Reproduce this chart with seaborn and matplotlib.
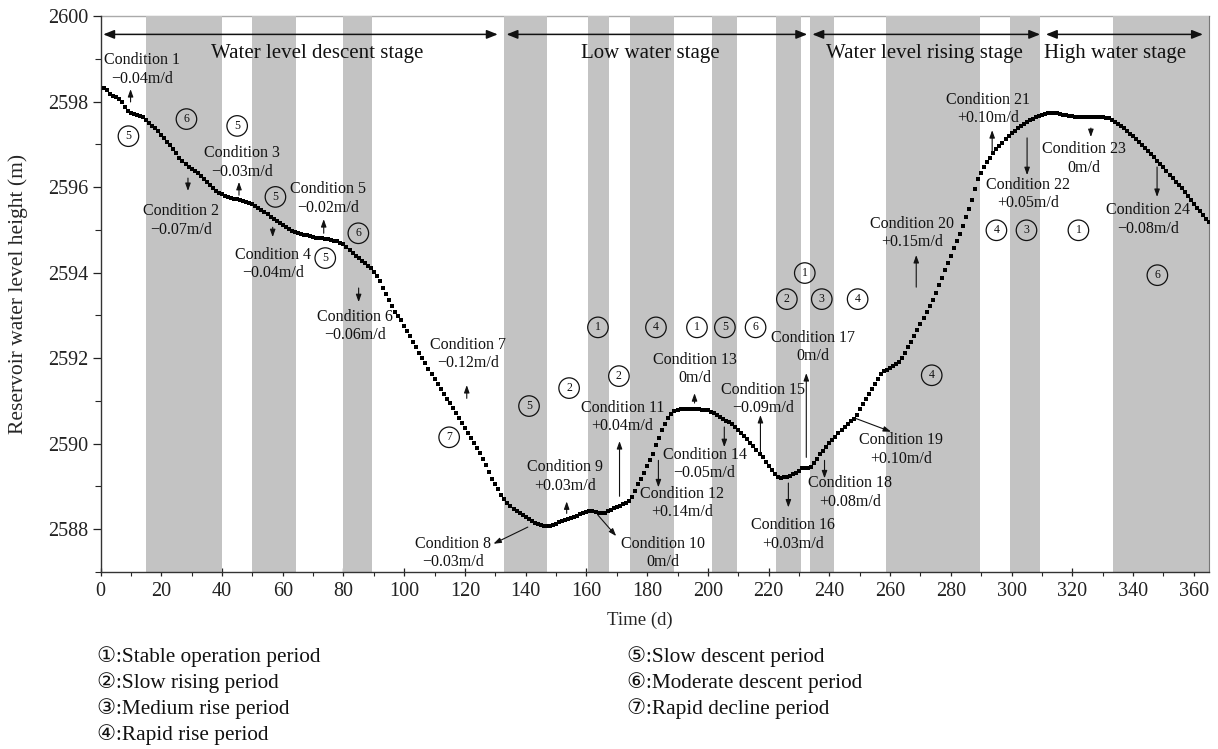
import matplotlib
matplotlib.use("Agg")
import matplotlib.pyplot as plt
import numpy as np
import pandas as pd
import seaborn as sns

# Daily reservoir water level (m), split by operating stage
descent_level = [  # days 1-133
    2598.32, 2598.26, 2598.18, 2598.12, 2598.10, 2598.07, 2598.00, 2597.88, 2597.77, 2597.73,
    2597.71, 2597.68, 2597.66, 2597.63, 2597.57, 2597.50, 2597.43, 2597.37, 2597.30, 2597.22,
    2597.14, 2597.06, 2596.98, 2596.89, 2596.79, 2596.67, 2596.60, 2596.54, 2596.48, 2596.43,
    2596.38, 2596.33, 2596.27, 2596.20, 2596.12, 2596.04, 2595.97, 2595.91, 2595.87, 2595.83,
    2595.80, 2595.77, 2595.75, 2595.73, 2595.71, 2595.69, 2595.67, 2595.65, 2595.63, 2595.60,
    2595.56, 2595.51, 2595.46, 2595.41, 2595.36, 2595.31, 2595.26, 2595.21, 2595.16, 2595.12,
    2595.07, 2595.02, 2594.98, 2594.95, 2594.93, 2594.91, 2594.89, 2594.87, 2594.85, 2594.83,
    2594.82, 2594.81, 2594.80, 2594.79, 2594.78, 2594.77, 2594.75, 2594.73, 2594.70, 2594.66,
    2594.60, 2594.54, 2594.47, 2594.40, 2594.34, 2594.28, 2594.22, 2594.16, 2594.10, 2594.02,
    2593.93, 2593.80, 2593.64, 2593.50, 2593.36, 2593.22, 2593.09, 2592.99, 2592.90, 2592.76,
    2592.63, 2592.51, 2592.38, 2592.26, 2592.13, 2592.00, 2591.88, 2591.75, 2591.62, 2591.51,
    2591.40, 2591.28, 2591.17, 2591.05, 2590.94, 2590.83, 2590.72, 2590.61, 2590.49, 2590.37,
    2590.26, 2590.14, 2590.02, 2589.90, 2589.78, 2589.64, 2589.50, 2589.33, 2589.18, 2589.05,
    2588.93, 2588.80, 2588.70,
]
low_level = [  # days 134-233
    2588.61, 2588.54, 2588.48, 2588.43, 2588.38, 2588.33, 2588.28,
    2588.23, 2588.19, 2588.15, 2588.12, 2588.10, 2588.08, 2588.07, 2588.08, 2588.11, 2588.13,
    2588.16, 2588.19, 2588.22, 2588.24, 2588.27, 2588.29, 2588.32, 2588.35, 2588.38, 2588.41,
    2588.43, 2588.43, 2588.41, 2588.39, 2588.38, 2588.38, 2588.42, 2588.46, 2588.49, 2588.52,
    2588.55, 2588.58, 2588.61, 2588.65, 2588.75, 2588.90, 2589.05, 2589.18, 2589.32, 2589.47,
    2589.62, 2589.77, 2589.97, 2590.14, 2590.31, 2590.46, 2590.60, 2590.70, 2590.76, 2590.79,
    2590.80, 2590.81, 2590.81, 2590.81, 2590.81, 2590.80, 2590.80, 2590.79, 2590.79, 2590.78,
    2590.75, 2590.71, 2590.66, 2590.62, 2590.58, 2590.54, 2590.50, 2590.46, 2590.40, 2590.33,
    2590.26, 2590.18, 2590.10, 2590.02, 2589.94, 2589.86, 2589.77, 2589.68, 2589.58, 2589.48,
    2589.38, 2589.29, 2589.22, 2589.20, 2589.21, 2589.23, 2589.25, 2589.28, 2589.31, 2589.36,
    2589.42, 2589.44, 2589.44,
]
rising_level = [  # days 234-309
    2589.46, 2589.55, 2589.65, 2589.75, 2589.84, 2589.93, 2590.01,
    2590.08, 2590.16, 2590.24, 2590.32, 2590.40, 2590.47, 2590.53, 2590.58, 2590.68, 2590.80,
    2590.92, 2591.04, 2591.16, 2591.28, 2591.40, 2591.52, 2591.63, 2591.69, 2591.73, 2591.77,
    2591.81, 2591.86, 2591.91, 2592.00, 2592.12, 2592.25, 2592.38, 2592.52, 2592.66, 2592.80,
    2592.94, 2593.08, 2593.22, 2593.37, 2593.53, 2593.70, 2593.87, 2594.05, 2594.23, 2594.40,
    2594.57, 2594.74, 2594.91, 2595.09, 2595.29, 2595.49, 2595.70, 2595.95, 2596.20, 2596.34,
    2596.47, 2596.58, 2596.68, 2596.79, 2596.89, 2596.96, 2597.04, 2597.12, 2597.19, 2597.26,
    2597.32, 2597.38, 2597.43, 2597.48, 2597.52, 2597.56, 2597.60, 2597.63, 2597.66,
]
high_level = [  # days 310-365
    2597.69, 2597.71, 2597.73, 2597.74, 2597.74, 2597.73, 2597.71, 2597.69, 2597.68, 2597.67, 2597.66,
    2597.65, 2597.64, 2597.63, 2597.63, 2597.64, 2597.65, 2597.65, 2597.64, 2597.64, 2597.63,
    2597.62, 2597.61, 2597.58, 2597.53, 2597.48, 2597.43, 2597.37, 2597.31, 2597.25, 2597.19,
    2597.12, 2597.05, 2596.98, 2596.91, 2596.84, 2596.77, 2596.70, 2596.62, 2596.54, 2596.46,
    2596.37, 2596.29, 2596.21, 2596.13, 2596.05, 2595.97, 2595.88, 2595.79, 2595.70, 2595.61,
    2595.52, 2595.43, 2595.34, 2595.26, 2595.18,
]

# Shaded operating periods (day ranges)
band_start = [15, 50, 80, 133, 160.5, 174.5, 201.5, 222.5, 233.5, 258.5, 299.5, 333.5]
band_end = [40, 64.5, 89.5, 147, 167.5, 189, 209.5, 230.5, 241.5, 289.5, 309.5, 365]

# Stages along the top
stage_names = ["Water level descent stage", "Low water stage",
               "Water level rising stage", "High water stage"]
stage_start = [0.9, 133.7, 234.4, 311.3]
stage_end = [130.8, 232.7, 309.4, 363.0]
stage_label_day = [71.5, 181.0, 271.2, 334.0]

# Working conditions and their rate of level change
condition_rates = ["\u22120.04", "\u22120.07", "\u22120.03", "\u22120.04", "\u22120.02", "\u22120.06",
                   "\u22120.12", "\u22120.03", "+0.03", "0", "+0.04", "+0.14", "0", "\u22120.05",
                   "\u22120.09", "+0.03", "0", "+0.08", "+0.10", "+0.15", "+0.10", "+0.05", "0",
                   "\u22120.08"]
cond_text_x = [13.6, 26.5, 46.6, 56.7, 74.9, 83.7, 120.9, 116.2, 153.1, 185.2, 171.9, 191.6,
               195.6, 198.9, 218.2, 228.0, 234.5, 246.8, 263.7, 267.3, 292.3, 305.4, 323.9, 344.8]
cond_text_y = [2598.75, 2595.22, 2596.57, 2594.20, 2595.73, 2592.75, 2592.10, 2587.44, 2589.23,
               2587.44, 2590.63, 2588.61, 2591.74, 2589.53, 2591.05, 2587.88, 2592.26, 2588.86,
               2589.86, 2594.92, 2597.82, 2595.84, 2596.67, 2595.24]
cond_tail = [(9.9, 2597.99), (28.8, 2596.21), (45.6, 2595.81), (56.7, 2595.06), (73.5, 2594.92),
             (85.0, 2593.64), (120.6, 2591.06), (140.7, 2588.05), (153.5, 2588.37),
             (163.8, 2588.33), (170.9, 2588.77), (183.7, 2589.61), (195.6, 2590.95),
             (205.4, 2590.39), (217.3, 2589.80), (226.5, 2589.08), (232.4, 2589.68),
             (238.4, 2589.61), (248.7, 2590.59), (268.6, 2593.66), (293.6, 2596.82),
             (305.1, 2597.15), (326.1, 2597.38), (347.9, 2596.47)]
cond_head = [(9.9, 2598.29), (28.8, 2595.91), (45.6, 2596.12), (56.7, 2594.83), (73.5, 2595.25),
             (85.0, 2593.31), (120.6, 2591.37), (129.4, 2587.66), (153.5, 2588.65),
             (169.8, 2587.84), (170.9, 2590.06), (183.7, 2588.98), (195.6, 2591.18),
             (205.4, 2589.92), (217.3, 2590.67), (226.5, 2588.51), (232.4, 2591.65),
             (238.4, 2589.19), (260.3, 2590.28), (268.6, 2594.41), (293.6, 2597.33),
             (305.1, 2596.28), (326.1, 2597.17), (347.9, 2595.77)]

# Period type markers (circled numbers)
period_id = [5, 6, 5, 5, 6, 5, 7, 5, 2, 1, 2, 4, 1, 5, 6, 1, 2, 3, 4, 4, 4, 3, 1, 6]
period_x = [9.2, 28.3, 45.0, 57.6, 84.9, 74.0, 114.8, 141.1, 154.3, 163.8, 170.7, 182.9,
            196.4, 205.6, 215.7, 231.9, 226.0, 237.5, 249.3, 273.7, 295.0, 304.9, 322.0, 348.0]
period_y = [2597.19, 2597.59, 2597.43, 2595.77, 2594.92, 2594.34, 2590.15, 2590.88, 2591.30,
            2592.72, 2591.58, 2592.72, 2592.72, 2592.72, 2592.72, 2593.99, 2593.38, 2593.38,
            2593.38, 2591.60, 2594.99, 2594.99, 2594.99, 2593.94]

period_names = ["\u2460:Stable operation period", "\u2461:Slow rising period",
                "\u2462:Medium rise period", "\u2463:Rapid rise period",
                "\u2464:Slow descent period", "\u2465:Moderate descent period",
                "\u2466:Rapid decline period"]

sns.set_style("ticks")
plt.rcParams["font.family"] = ["Liberation Serif", "DejaVu Sans"]
plt.rcParams["axes.unicode_minus"] = True

levels = descent_level + low_level + rising_level + high_level
df = pd.DataFrame({"day": np.arange(1, len(levels) + 1), "level": levels})

W, H = 1218, 749
fig = plt.figure(figsize=(W / 100, H / 100), dpi=100)
ax = fig.add_axes([100.5 / W, 1 - 572 / H, (1209 - 100.5) / W, (572 - 16) / H])

for s, e in zip(band_start, band_end):
    ax.axvspan(s, e, color="#c3c3c3", lw=0, zorder=1)

sns.scatterplot(data=df, x="day", y="level", marker="s", s=8, color="black",
                linewidth=0, ax=ax, zorder=4, legend=False)

ax.set_xlim(0, 365)
ax.set_ylim(2587, 2600)
ax.set_xticks(np.arange(0, 361, 20))
ax.set_xticks(np.arange(0, 366, 10), minor=True)
ax.set_yticks(np.arange(2588, 2601, 2))
ax.set_yticks(np.arange(2587, 2601, 1), minor=True)
ax.tick_params(axis="both", which="major", labelsize=14.5, colors="#222222", width=0.9)
ax.tick_params(axis="x", which="major", direction="inout", length=6, pad=4)
ax.tick_params(axis="x", which="minor", direction="out", length=3, width=0.8)
ax.tick_params(axis="y", which="major", direction="out", length=6, pad=3)
ax.tick_params(axis="y", which="minor", direction="out", length=4, width=0.8)

for side in ["left", "bottom"]:
    ax.spines[side].set_color("#333333")
    ax.spines[side].set_linewidth(1.0)
ax.spines["top"].set_color("#aaaaaa")
ax.spines["top"].set_linewidth(1.0)
ax.spines["top"].set_zorder(0.5)
ax.spines["right"].set_color("#777777")
ax.spines["right"].set_linewidth(0.8)

ax.set_xlabel("Time (d)", fontsize=13.5)
ax.xaxis.set_label_coords((640 - 100.5) / 1108.5, -(620 - 572) / 556)
ax.xaxis.label.set_va("center")
ax.set_ylabel("Reservoir water level height (m)", fontsize=15.5)
ax.yaxis.set_label_coords(-(100.5 - 18) / 1108.5, 0.5)
ax.yaxis.label.set_va("center")

# stage arrows and names
for name, s, e, c in zip(stage_names, stage_start, stage_end, stage_label_day):
    ax.annotate("", xy=(e, 2599.57), xytext=(s, 2599.57),
                arrowprops=dict(arrowstyle="<|-|>,head_length=0.55,head_width=0.22",
                                lw=1.1, color="#111111", shrinkA=0, shrinkB=0,
                                mutation_scale=12), zorder=5)
    ax.text(c, 2599.13, name, fontsize=15, ha="center", va="center", color="#111111", zorder=5)

# condition labels with pointer arrows
for i, (rate, tx, ty, tail, head) in enumerate(zip(condition_rates, cond_text_x, cond_text_y,
                                                     cond_tail, cond_head)):
    ax.text(tx, ty, f"Condition {i + 1}\n{rate}m/d", fontsize=11.5, ha="center",
            va="center", linespacing=1.2, color="#111111", zorder=5)
    ax.annotate("", xy=head, xytext=tail,
                arrowprops=dict(arrowstyle="-|>,head_length=0.45,head_width=0.16",
                                lw=0.8, color="#111111", shrinkA=0, shrinkB=0,
                                mutation_scale=10), zorder=5)

# circled period numbers
for n, px, py in zip(period_id, period_x, period_y):
    ax.text(px, py, str(n), fontsize=8.5, ha="center", va="center", color="#111111", zorder=5,
            bbox=dict(boxstyle="circle,pad=0.36", fc="none", ec="#111111", lw=0.9))

# period legend below the axes
legend_rows = [657, 683, 709, 735]
for k, name in enumerate(period_names):
    col_x = 97 if k < 4 else 627
    row_y = legend_rows[k if k < 4 else k - 4]
    fig.text(col_x / W, 1 - row_y / H, name, fontsize=15.3, ha="left", va="center",
             color="#111111")

fig.savefig("out.png", dpi=100)
